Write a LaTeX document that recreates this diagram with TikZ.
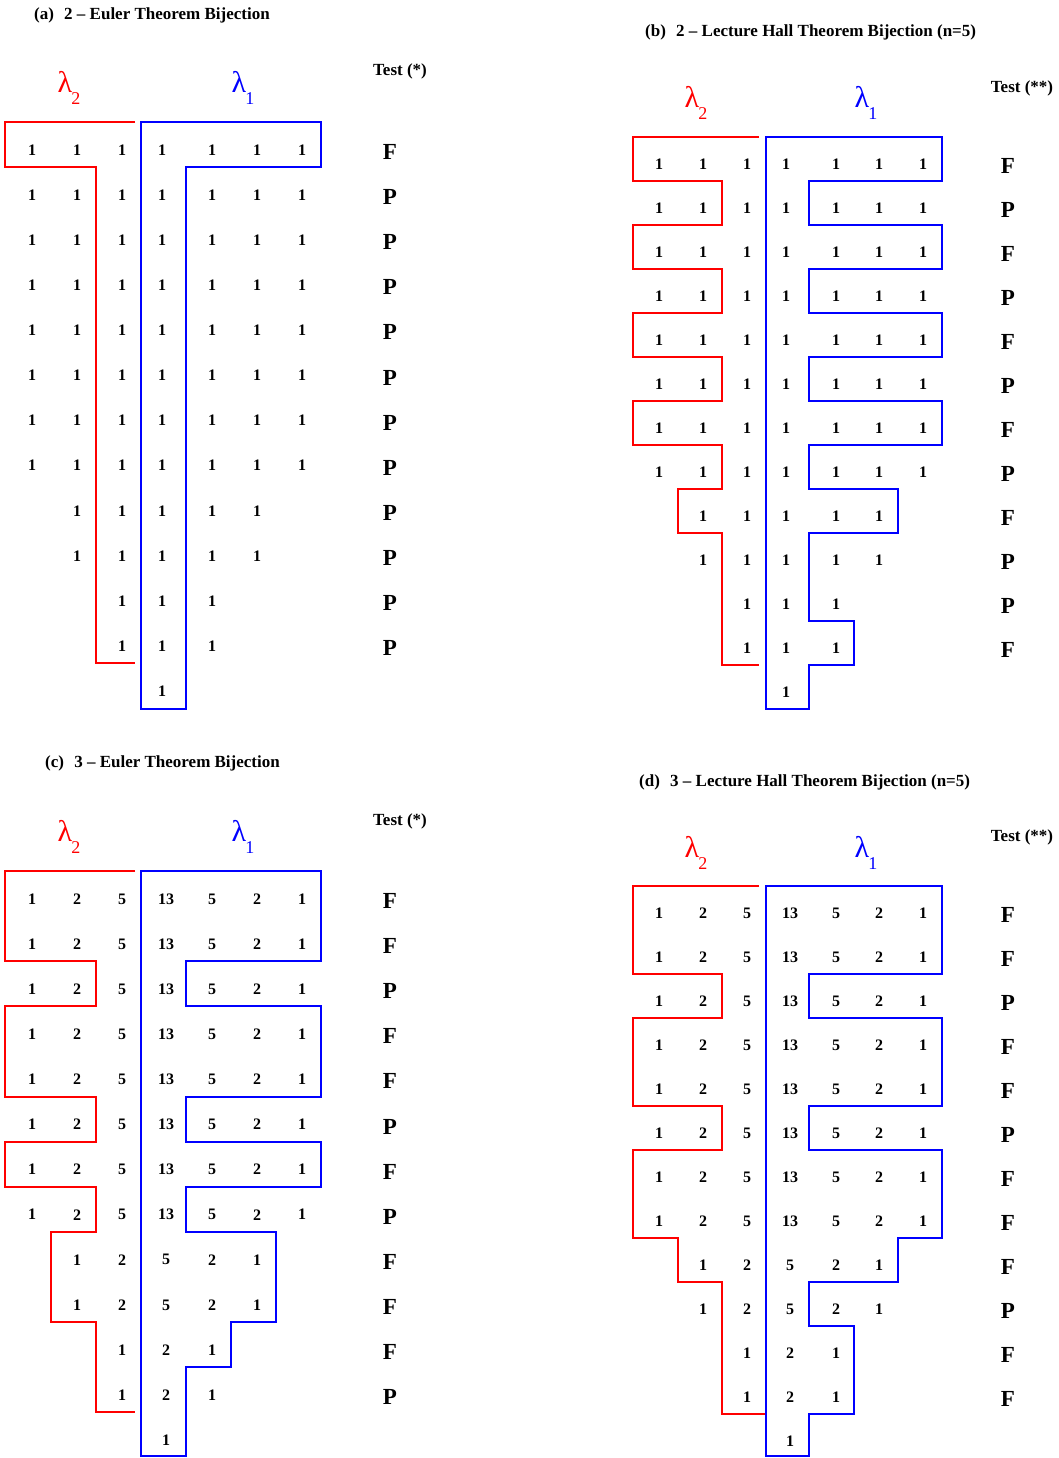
\documentclass[tikz,border=0pt]{standalone}
\usepackage{fontspec}
\setmainfont{Liberation Serif}

\tikzset{
  num/.style={font=\bfseries\fontsize{16}{18}\selectfont, inner sep=0pt},
  verdict/.style={font=\bfseries\fontsize{23}{25}\selectfont, inner sep=0pt},
  heading/.style={font=\bfseries\fontsize{17}{19}\selectfont, anchor=west, inner sep=0pt},
  testhead/.style={font=\bfseries\fontsize{17}{19}\selectfont, inner sep=0pt},
  lam/.style={font=\fontsize{30}{32}\selectfont, inner sep=0pt},
  redpart/.style={red, line width=2pt},
  bluepart/.style={blue, line width=2pt}
}

\newcommand{\lamsub}[1]{λ\kern-1pt\raisebox{-0.4em}{\fontsize{18}{18}\selectfont #1}}

\newcommand{\tableau}[7]{%
  \foreach \rw/\fc/\lc in {1/1/7,2/1/7,3/1/7,4/1/7,5/1/7,6/1/7,7/1/7,8/1/7,9/2/6,10/2/6,11/3/5,12/3/5,13/4/4} {
    \foreach \cl in {\fc,...,\lc} {
      \pgfmathsetmacro{\xx}{{#2}[\cl-1]}
      \pgfmathsetmacro{\yy}{#3+(\rw-1)*#4}
      \pgfmathtruncatemacro{\val}{{#5}[min(\cl-\fc,\lc-\cl)]}
      \node[num] (#1-\rw-\cl) at (\xx,\yy) {\val};
    }
  }
  \foreach \res [count=\rw] in {#7}
    \node[verdict] (#1-test-\rw) at (#6,{#3+(\rw-1)*#4+2}) {\res};
}

\begin{document}
\begin{tikzpicture}[x=1pt,y=-1pt]
  \useasboundingbox (0,0) rectangle (1058,1458);

  \node[heading] (ttl-a) at (34,15) {(a)\hspace{0.6em}2 -- Euler Theorem Bijection};
  \node[testhead] (tst-a) at (400,71) {Test (*)};
  \node[lam, red] (lam2-a) at (69,88) {\lamsub{2}};
  \node[lam, blue] (lam1-a) at (243,88) {\lamsub{1}};
  \draw[redpart] (135,122) -| (5,167) -| (96,663) -- (135,663);
  \draw[bluepart] (141,122) -| (321,167) -| (186,709) -- (141,709) -- cycle;
  \tableau{a}{32,77,122,162,212,257,302}{150}{45.1}{1,1,1,1}{390}{F,P,P,P,P,P,P,P,P,P,P,P}

  \node[heading] (ttl-b) at (645,32) {(b)\hspace{0.6em}2 -- Lecture Hall Theorem Bijection (n=5)};
  \node[testhead] (tst-b) at (1022,88) {Test (**)};
  \node[lam, red] (lam2-b) at (696,103) {\lamsub{2}};
  \node[lam, blue] (lam1-b) at (866,103) {\lamsub{1}};
  \draw[redpart] (759,137) -| (633,181) -| (722,225) -| (633,269) -| (722,313) -| (633,357) -| (722,401)
    -| (633,445) -| (722,489) -| (678,533) -| (722,665) -- (759,665);
  \draw[bluepart] (766,137) -| (942,181) -| (809,225) -| (942,269) -| (809,313) -| (942,357) -| (809,401)
    -| (942,445) -| (809,489) -| (898,533) -| (809,621) -| (854,665) -| (809,709) -- (766,709) -- cycle;
  \tableau{b}{659,703,747,786,836,879,923}{164}{44}{1,1,1,1}{1008}{F,P,F,P,F,P,F,P,F,P,P,F}

  \node[heading] (ttl-c) at (45,763) {(c)\hspace{0.6em}3 -- Euler Theorem Bijection};
  \node[testhead] (tst-c) at (400,821) {Test (*)};
  \node[lam, red] (lam2-c) at (69,837) {\lamsub{2}};
  \node[lam, blue] (lam1-c) at (243,837) {\lamsub{1}};
  \draw[redpart] (135,871) -| (5,961) -| (96,1006) -| (5,1097) -| (96,1142) -| (5,1187) -| (96,1232)
    -| (51,1322) -| (96,1412) -- (135,1412);
  \draw[bluepart] (141,871) -| (321,961) -| (186,1006) -| (321,1097) -| (186,1142) -| (321,1187) -| (186,1232)
    -| (276,1322) -| (231,1367) -| (186,1456) -- (141,1456) -- cycle;
  \tableau{c}{32,77,122,166,212,257,302}{899}{45.1}{1,2,5,13}{390}{F,F,P,F,F,P,F,P,F,F,F,P}

  \node[heading] (ttl-d) at (639,782) {(d)\hspace{0.6em}3 -- Lecture Hall Theorem Bijection (n=5)};
  \node[testhead] (tst-d) at (1022,837) {Test (**)};
  \node[lam, red] (lam2-d) at (696,853) {\lamsub{2}};
  \node[lam, blue] (lam1-d) at (866,853) {\lamsub{1}};
  \draw[redpart] (759,886) -| (633,974) -| (722,1018) -| (633,1106) -| (722,1150) -| (633,1238)
    -| (678,1282) -| (722,1414) -- (766,1414);
  \draw[bluepart] (766,886) -| (942,974) -| (809,1018) -| (942,1106) -| (809,1150) -| (942,1238)
    -| (898,1282) -| (809,1326) -| (854,1414) -| (809,1456) -- (766,1456) -- cycle;
  \tableau{d}{659,703,747,790,836,879,923}{913}{44}{1,2,5,13}{1008}{F,F,P,F,F,P,F,F,F,P,F,F}
\end{tikzpicture}
\end{document}
